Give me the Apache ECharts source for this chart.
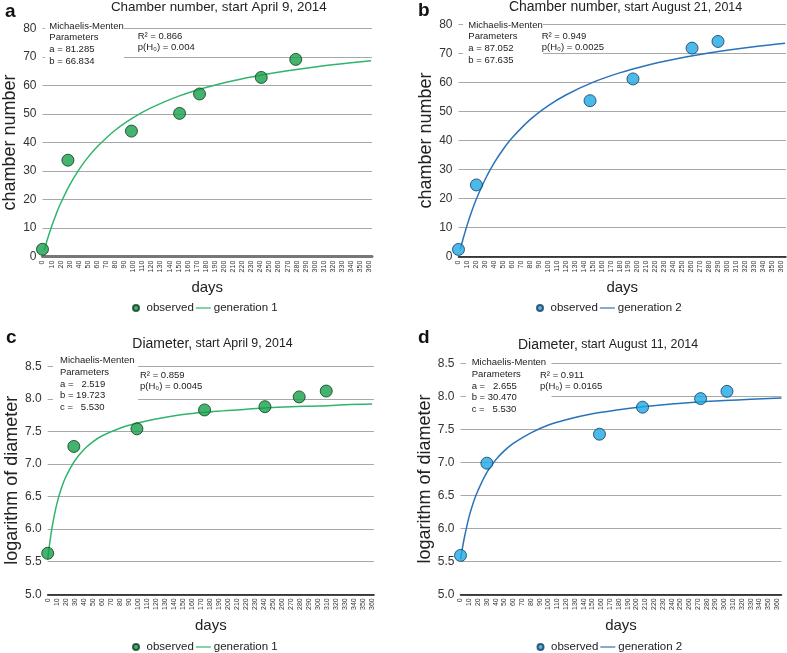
<!DOCTYPE html>
<html>
<head>
<meta charset="utf-8">
<script src="https://cdn.jsdelivr.net/npm/echarts@6/dist/echarts.min.js"></script>
<style>html,body{margin:0;padding:0;background:#fff;}#c{width:787px;height:653px;}</style>
</head>
<body>
<div id="c"></div>
<script>
const obsA_x = [0, 28, 98, 151, 173, 241, 279];
const obsA_y = [2.6, 33.8, 44.0, 50.2, 57.0, 62.8, 69.1];
const obsB_x = [0, 20, 147, 195, 261, 290];
const obsB_y = [2.5, 24.7, 53.7, 61.2, 71.8, 74.1];
const obsC_x = [0, 29, 99, 174, 241, 279, 309];
const obsC_y = [5.63, 7.27, 7.54, 7.83, 7.88, 8.03, 8.12];
const obsD_x = [0, 30, 158, 207, 273, 303];
const obsD_y = [5.59, 6.99, 7.43, 7.84, 7.97, 8.08];

// ---- fitted curves ----
const fitA_x = [2, 5, 10, 15, 20, 30, 40, 50, 60, 80, 100, 120, 150, 180, 210, 240, 270, 300, 330, 362];
const fitA_y = [2.36, 5.66, 10.58, 14.90, 18.72, 25.18, 30.44, 34.79, 38.45, 44.29, 48.72, 52.21, 56.23, 59.28, 61.66, 63.58, 65.16, 66.48, 67.60, 68.62];
const fitB_x = [2, 5, 10, 15, 20, 30, 40, 50, 60, 80, 100, 120, 150, 180, 210, 240, 270, 300, 330, 365];
const fitB_y = [2.50, 5.99, 11.21, 15.80, 19.87, 26.75, 32.35, 37.00, 40.92, 47.17, 51.93, 55.67, 60.00, 63.28, 65.85, 67.91, 69.61, 71.04, 72.25, 73.44];
const fitC_x = [0, 2, 5, 10, 15, 20, 30, 40, 50, 60, 80, 100, 120, 150, 180, 210, 240, 270, 300, 330, 360];
const fitC_y = [5.53, 5.76, 6.04, 6.38, 6.62, 6.80, 7.05, 7.22, 7.34, 7.43, 7.55, 7.63, 7.69, 7.76, 7.80, 7.83, 7.86, 7.88, 7.89, 7.91, 7.92];
const fitD_x = [0, 2, 5, 10, 15, 20, 30, 40, 50, 60, 80, 100, 120, 150, 180, 210, 240, 270, 300, 330, 365];
const fitD_y = [5.53, 5.69, 5.90, 6.19, 6.41, 6.58, 6.85, 7.04, 7.18, 7.29, 7.45, 7.57, 7.65, 7.74, 7.80, 7.85, 7.89, 7.92, 7.94, 7.96, 7.98];

// ---- texts ----
const titles = [
  '{a|Chamber number, start April 9, 2014}',
  '{m|Chamber number,} {s|start August 21, 2014}',
  '{m|Diameter,} {s|start April 9, 2014}',
  '{m|Diameter,} {s|start August 11, 2014}'
];
const panelLetters = ['a', 'b', 'c', 'd'];
const yNames = ['chamber number', 'chamber number', 'logarithm of diameter', 'logarithm of diameter'];
const mmTexts = [
  'Michaelis-Menten\nParameters\na = 81.285\nb = 66.834',
  'Michaelis-Menten\nParameters\na = 87.052\nb = 67.635',
  'Michaelis-Menten\nParameters\na =   2.519\nb = 19.723\nc =   5.530',
  'Michaelis-Menten\nParameters\na =   2.655\nb = 30.470\nc =   5.530'
];
const statTexts = [
  'R² = 0.866\np(H₀) = 0.004',
  'R² = 0.949\np(H₀) = 0.0025',
  'R² = 0.859\np(H₀) = 0.0045',
  'R² = 0.911\np(H₀) = 0.0165'
];
const legendNames = {obsA: 'observed', genA: 'generation 1', obsB: 'observed', genB: 'generation 2',
                     obsC: 'observed', genC: 'generation 1', obsD: 'observed', genD: 'generation 2'};

const FF = '"Liberation Sans", Arial, Helvetica, sans-serif';
const GREEN_PT = '#15a048', GREEN_LN = '#2fb56a', GREEN_BD = '#0e3a1f';
const BLUE_PT = '#1ea7e4', BLUE_LN = '#2b73b8', BLUE_BD = '#15395a';

const zip = (xs, ys) => xs.map((x, i) => [x, ys[i]]);

const grids = [
  {left: 42.5, top: 28.3, width: 329.5, height: 228.4},
  {left: 458.5, top: 24.3, width: 327.5, height: 232.4},
  {left: 47.7, top: 366.3, width: 326.3, height: 228},
  {left: 460.5, top: 363.7, width: 321, height: 230.6}
];
const xMax = [363, 366, 362, 365];
const yRange = [[0, 80, 10], [0, 80, 10], [5, 8.5, 0.5], [5, 8.5, 0.5]];

const xAxes = grids.map((g, i) => ({
  type: 'value', gridIndex: i, min: 0, max: xMax[i], interval: 10,
  axisLine: {show: true, lineStyle: {color: i === 0 ? '#777' : '#111', width: i === 0 ? 3 : 1.5}},
  axisTick: {show: false}, splitLine: {show: false},
  axisLabel: {rotate: 90, fontSize: 7, color: '#333', margin: 4, showMinLabel: true, showMaxLabel: false,
              hideOverlap: false, fontFamily: FF,
              formatter: v => (Math.abs(v % 10) < 1e-9 ? String(Math.round(v)) : '')},
  name: 'days', nameLocation: 'middle', nameGap: 24,
  nameTextStyle: {fontSize: 15, color: '#222', fontFamily: FF}
}));
const yAxes = grids.map((g, i) => ({
  type: 'value', gridIndex: i, min: yRange[i][0], max: yRange[i][1], interval: yRange[i][2],
  axisLine: {show: false}, axisTick: {show: false},
  splitLine: {show: true, lineStyle: {color: '#a8a8a8', width: 1}},
  axisLabel: {fontSize: 12, color: '#333', margin: 6, fontFamily: FF,
              formatter: i >= 2 ? (v => v.toFixed(1)) : (v => String(v))},
  name: yNames[i], nameLocation: 'middle', nameGap: 22,
  nameTextStyle: {fontSize: 18, color: '#222', fontFamily: FF}
}));

function scatter(name, i, xs, ys, col, bd) {
  return {type: 'scatter', name, xAxisIndex: i, yAxisIndex: i, data: zip(xs, ys), symbolSize: 12,
          itemStyle: {color: col, borderColor: bd, borderWidth: 1}, z: 4};
}
function curve(name, i, xs, ys, col) {
  return {type: 'line', name, xAxisIndex: i, yAxisIndex: i, data: zip(xs, ys), symbol: 'none', showSymbol: false,
          smooth: 0.35, lineStyle: {color: col, width: 1.5}, itemStyle: {color: col}, z: 3};
}
const series = [
  curve('genA', 0, fitA_x, fitA_y, GREEN_LN), scatter('obsA', 0, obsA_x, obsA_y, GREEN_PT, GREEN_BD),
  curve('genB', 1, fitB_x, fitB_y, BLUE_LN), scatter('obsB', 1, obsB_x, obsB_y, BLUE_PT, BLUE_BD),
  curve('genC', 2, fitC_x, fitC_y, GREEN_LN), scatter('obsC', 2, obsC_x, obsC_y, GREEN_PT, GREEN_BD),
  curve('genD', 3, fitD_x, fitD_y, BLUE_LN), scatter('obsD', 3, obsD_x, obsD_y, BLUE_PT, BLUE_BD)
];

const LINE_ICON = 'path://M0,0L20,0L20,1.6L0,1.6Z';
const legendPos = [{left: 132, top: 302}, {left: 536, top: 302}, {left: 132, top: 641}, {left: 536.5, top: 641}];
const legendKeys = [['obsA', 'genA'], ['obsB', 'genB'], ['obsC', 'genC'], ['obsD', 'genD']];
const legends = legendPos.map((p, i) => ({
  left: p.left, top: p.top, orient: 'horizontal', itemWidth: 15, itemHeight: 6, itemGap: 2, padding: 0,
  selectedMode: false, symbolKeepAspect: true,
  data: [{name: legendKeys[i][0], icon: 'circle'}, {name: legendKeys[i][1], icon: LINE_ICON}],
  formatter: n => legendNames[n],
  textStyle: {fontSize: 11.5, color: '#222', fontFamily: FF, padding: [0, 0, 0, -2]}
}));

// annotation layout
const titlePos = [[218.8, 7], [625.5, 7.5], [212.5, 344], [608, 345]];
const letterPos = [[5, 12], [418, 11], [6, 338], [418, 338]];
const mmBox = [[45, 18, 79, 49], [463, 17, 80, 49], [53, 353, 85, 61], [466, 354, 85.5, 62]];
const mmTextPos = [[49.3, 20.2], [468.3, 19.2], [60, 354.9], [471.7, 356.9]];
const statPos = [[137.7, 30.2], [541.7, 30.2], [140, 369.2], [540, 369.2]];

const graphics = [];
for (let i = 0; i < 4; i++) {
  graphics.push({type: 'text', x: titlePos[i][0], y: titlePos[i][1], z: 60,
    style: {text: titles[i], textAlign: 'center', textVerticalAlign: 'middle', fill: '#222',
      rich: {a: {fontSize: 13.4, fontFamily: FF, fill: '#222'},
             m: {fontSize: 14, fontFamily: FF, fill: '#222'},
             s: {fontSize: 12.4, fontFamily: FF, fill: '#222'}}}});
  graphics.push({type: 'text', x: letterPos[i][0], y: letterPos[i][1], z: 60,
    style: {text: panelLetters[i], fontSize: 19, fontWeight: 'bold', fontFamily: FF, fill: '#111',
      textVerticalAlign: 'middle'}});
  graphics.push({type: 'rect', z: 50, shape: {x: mmBox[i][0], y: mmBox[i][1], width: mmBox[i][2], height: mmBox[i][3]},
    style: {fill: '#fff'}});
  graphics.push({type: 'text', x: mmTextPos[i][0], y: mmTextPos[i][1], z: 60,
    style: {text: mmTexts[i], fontSize: 9.5, lineHeight: 11.7, fontFamily: FF, fill: '#222', textVerticalAlign: 'top'}});
  graphics.push({type: 'text', x: statPos[i][0], y: statPos[i][1], z: 60,
    style: {text: statTexts[i], fontSize: 9.5, lineHeight: 11.7, fontFamily: FF, fill: '#222', textVerticalAlign: 'top'}});
}

const chart = echarts.init(document.getElementById('c'), null, {renderer: 'canvas'});
chart.setOption({
  animation: false,
  backgroundColor: '#fff',
  textStyle: {fontFamily: FF},
  grid: grids,
  xAxis: xAxes,
  yAxis: yAxes,
  legend: legends,
  series: series,
  graphic: graphics
});
</script>
</body>
</html>
